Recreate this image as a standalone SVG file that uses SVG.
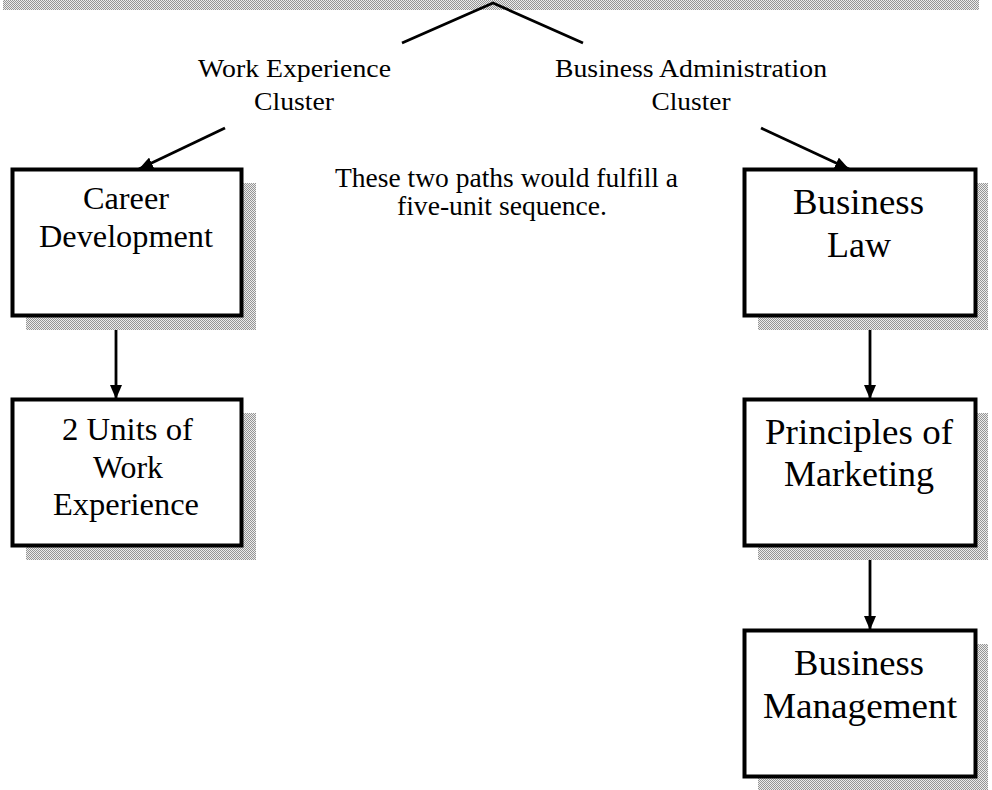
<svg xmlns="http://www.w3.org/2000/svg" width="992" height="790" viewBox="0 0 992 790">
  <defs>
    <pattern id="dither" width="2" height="2" patternUnits="userSpaceOnUse">
      <rect width="2" height="2" fill="#ececec"/>
      <rect x="0" y="0" width="1" height="1" fill="#959595"/>
      <rect x="1" y="1" width="1" height="1" fill="#959595"/>
    </pattern>
    <marker id="arrow" markerWidth="14" markerHeight="12" refX="14" refY="6" orient="auto" markerUnits="userSpaceOnUse">
      <path d="M0,0 L14,6 L0,12 Z" fill="#000"/>
    </marker>
  </defs>
  <style>
    .shadow { fill: url(#dither); stroke: none; }
    .box { fill: #fff; stroke: #000; stroke-width: 4; }
    .t { font-family: "Liberation Serif", "Times New Roman", serif; fill: #000; text-anchor: middle; }
    .lbl { font-size: 25px; }
    .note { font-size: 27px; }
    .small { font-size: 31px; }
    .big { font-size: 36px; }
    .conn { stroke: #000; stroke-width: 2.8; fill: none; }
  </style>
  <rect width="992" height="790" fill="#fff"/>

  <!-- top band (shadow of cropped parent) -->
  <rect class="shadow" x="3" y="0" width="976" height="10"/>

  <g id="connectors">
    <path class="conn" d="M402,43 L493,3 L583,43"/>
    <line class="conn" x1="225" y1="128" x2="139" y2="169" marker-end="url(#arrow)"/>
    <line class="conn" x1="761" y1="128" x2="849" y2="169" marker-end="url(#arrow)"/>
    <line class="conn" x1="116" y1="316" x2="116" y2="399" marker-end="url(#arrow)"/>
    <line class="conn" x1="870" y1="316" x2="870" y2="399" marker-end="url(#arrow)"/>
    <line class="conn" x1="870" y1="546" x2="870" y2="630" marker-end="url(#arrow)"/>
  </g>

  <g id="label-work-cluster">
    <text class="t lbl" x="294.5" y="77" textLength="193" lengthAdjust="spacingAndGlyphs">Work Experience</text>
    <text class="t lbl" x="294" y="110" textLength="80" lengthAdjust="spacingAndGlyphs">Cluster</text>
  </g>
  <g id="label-business-cluster">
    <text class="t lbl" x="691" y="77" textLength="272" lengthAdjust="spacingAndGlyphs">Business Administration</text>
    <text class="t lbl" x="691" y="110" textLength="79" lengthAdjust="spacingAndGlyphs">Cluster</text>
  </g>
  <g id="note">
    <text class="t note" x="506.5" y="187" textLength="343" lengthAdjust="spacingAndGlyphs">These two paths would fulfill a</text>
    <text class="t note" x="502" y="215" textLength="210" lengthAdjust="spacingAndGlyphs">five-unit sequence.</text>
  </g>

  <g id="career-development">
    <rect class="shadow" x="26" y="183" width="230" height="147"/>
    <rect class="box" x="12.5" y="169.5" width="229" height="146"/>
    <text class="t small" x="126" y="209" textLength="86" lengthAdjust="spacingAndGlyphs">Career</text>
    <text class="t small" x="126" y="247" textLength="174" lengthAdjust="spacingAndGlyphs">Development</text>
  </g>

  <g id="work-experience-units">
    <rect class="shadow" x="26" y="413" width="230" height="147"/>
    <rect class="box" x="12.5" y="399.5" width="229" height="146"/>
    <text class="t small" x="127.5" y="440" textLength="131" lengthAdjust="spacingAndGlyphs">2 Units of</text>
    <text class="t small" x="128" y="478" textLength="70" lengthAdjust="spacingAndGlyphs">Work</text>
    <text class="t small" x="126" y="515" textLength="146" lengthAdjust="spacingAndGlyphs">Experience</text>
  </g>

  <g id="business-law">
    <rect class="shadow" x="758" y="183" width="230" height="147"/>
    <rect class="box" x="744.5" y="169.5" width="231" height="146"/>
    <text class="t big" x="858.5" y="214" textLength="131" lengthAdjust="spacingAndGlyphs">Business</text>
    <text class="t big" x="859" y="257" textLength="64" lengthAdjust="spacingAndGlyphs">Law</text>
  </g>

  <g id="principles-of-marketing">
    <rect class="shadow" x="758" y="413" width="230" height="147"/>
    <rect class="box" x="744.5" y="399.5" width="231" height="146"/>
    <text class="t big" x="859" y="444" textLength="188" lengthAdjust="spacingAndGlyphs">Principles of</text>
    <text class="t big" x="859" y="486" textLength="150" lengthAdjust="spacingAndGlyphs">Marketing</text>
  </g>

  <g id="business-management">
    <rect class="shadow" x="758" y="644" width="230" height="146"/>
    <rect class="box" x="744.5" y="630.5" width="231" height="146"/>
    <text class="t big" x="859" y="675" textLength="130" lengthAdjust="spacingAndGlyphs">Business</text>
    <text class="t big" x="860" y="718" textLength="194" lengthAdjust="spacingAndGlyphs">Management</text>
  </g>
</svg>
